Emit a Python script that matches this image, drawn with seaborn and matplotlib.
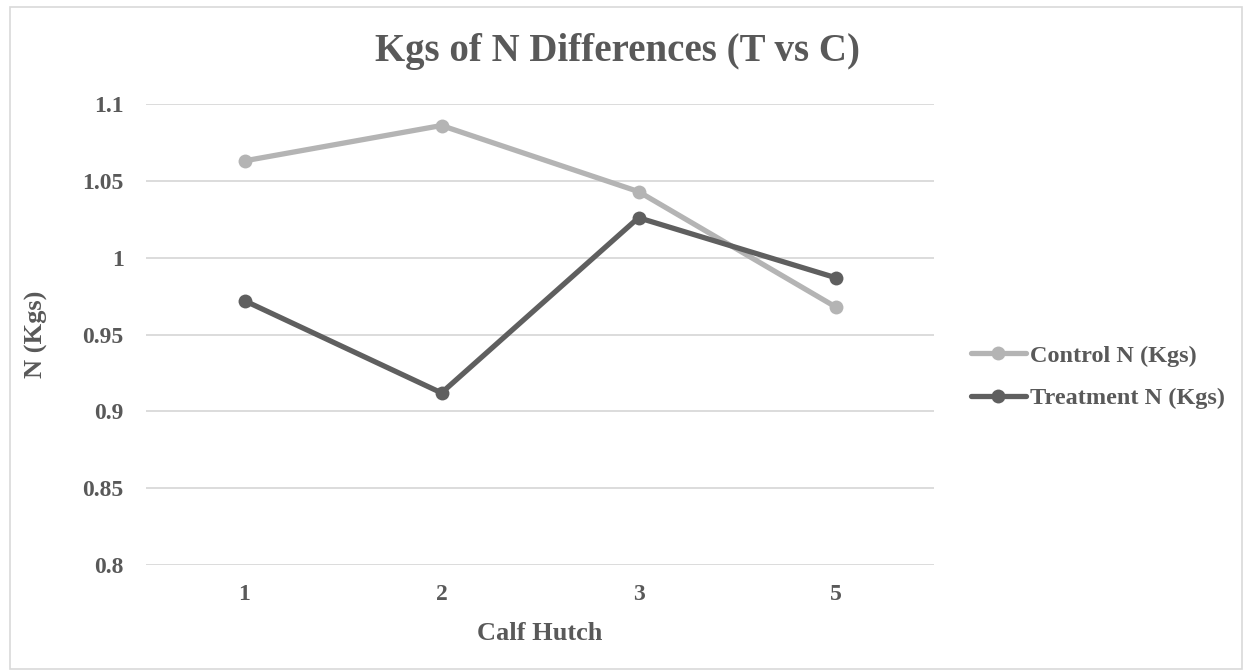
import matplotlib
matplotlib.use("Agg")
import matplotlib.pyplot as plt
import seaborn as sns
import pandas as pd
from matplotlib.patches import Rectangle

hutches = ["1", "2", "3", "5"]
control = [1.063, 1.086, 1.043, 0.968]
treatment = [0.972, 0.912, 1.026, 0.987]
series_names = ["Control N (Kgs)", "Treatment N (Kgs)"]
yticks = [0.8, 0.85, 0.9, 0.95, 1.0, 1.05, 1.1]
ytick_labels = ["0.8", "0.85", "0.9", "0.95", "1", "1.05", "1.1"]

df = pd.DataFrame({
    "Calf Hutch": hutches * 2,
    "N (Kgs)": control + treatment,
    "Series": [series_names[0]] * len(hutches) + [series_names[1]] * len(hutches),
})

sns.set_theme(style="white")
plt.rcParams["font.family"] = ["Liberation Serif", "DejaVu Serif"]
plt.rcParams["font.weight"] = "bold"
text_color = "#595959"

fig = plt.figure(figsize=(12.48, 6.72), dpi=100)
ax = fig.add_axes([146 / 1248, 1 - 565 / 672, 788 / 1248, 461 / 672])

palette = {series_names[0]: "#B4B4B4", series_names[1]: "#5F5F5F"}
sns.lineplot(data=df, x="Calf Hutch", y="N (Kgs)", hue="Series", palette=palette,
             marker="o", markersize=10, markeredgewidth=0, linewidth=3.8,
             sort=False, ax=ax)

ax.set_xlim(-0.5, 3.5)
ax.set_ylim(0.8, 1.1)
ax.set_yticks(yticks)
ax.set_yticklabels(ytick_labels)
ax.yaxis.grid(True, color="#D9D9D9", linewidth=1.3)
ax.xaxis.grid(False)
for s in ax.spines.values():
    s.set_visible(False)
ax.tick_params(axis="both", length=0, labelsize=17, labelcolor=text_color)
ax.tick_params(axis="y", pad=16)
ax.tick_params(axis="x", pad=14)
for lab in ax.get_xticklabels() + ax.get_yticklabels():
    lab.set_fontweight("bold")

ax.set_xlabel("Calf Hutch", fontsize=19, fontweight="bold", color=text_color, labelpad=12)
ax.set_ylabel("N (Kgs)", fontsize=19, fontweight="bold", color=text_color)
ax.yaxis.set_label_coords(-0.124, 0.5)

fig.text(0.495, 1 - 52 / 672, "Kgs of N Differences (T vs C)",
         ha="center", va="center", fontsize=28, fontweight="bold", color=text_color)

leg = ax.legend(loc="center left", bbox_to_anchor=(1.034, 0.408), frameon=False,
                fontsize=17.5, handlelength=2.3, handletextpad=0.15, labelspacing=0.85,
                borderaxespad=0, markerscale=1.0)
for t in leg.get_texts():
    t.set_color(text_color)
    t.set_fontweight("bold")

fig.patches.append(Rectangle((10 / 1248, 3 / 672), 1232 / 1248, 662 / 672,
                             transform=fig.transFigure, fill=False,
                             edgecolor="#D9D9D9", linewidth=1.2))

fig.savefig("out.png", dpi=100)
